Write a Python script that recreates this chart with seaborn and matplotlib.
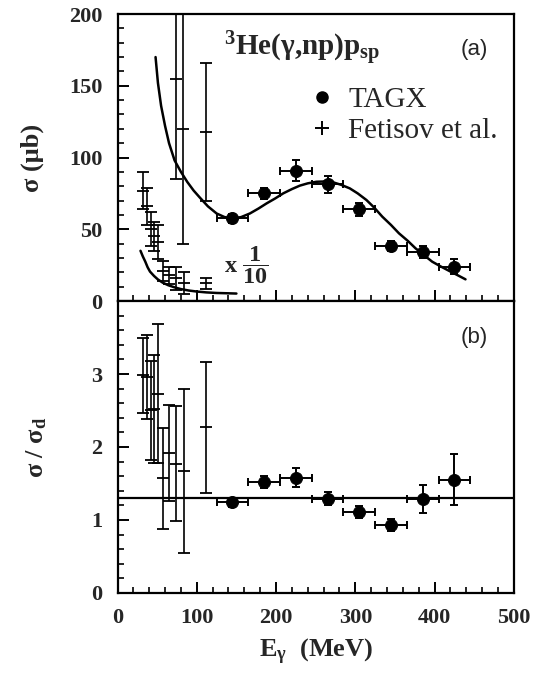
import matplotlib
matplotlib.use('Agg')
import matplotlib.pyplot as plt
import seaborn as sns
from matplotlib.lines import Line2D
from matplotlib.ticker import MultipleLocator, FixedLocator
from matplotlib.font_manager import FontProperties

# ---------------- data ----------------
# TAGX (this work)
tagx_E = [145, 185, 225, 265, 305, 345, 385, 425]
tagx_dE = [20, 20, 20, 20, 20, 20, 20, 20]
tagx_sig = [57.6, 75.0, 90.8, 81.3, 63.9, 38.5, 34.0, 24.0]
tagx_sig_err = [3.0, 4.0, 7.5, 6.0, 4.5, 3.5, 4.0, 5.5]
tagx_ratio = [1.24, 1.52, 1.58, 1.29, 1.11, 0.93, 1.29, 1.55]
tagx_ratio_err = [0.06, 0.08, 0.13, 0.09, 0.08, 0.08, 0.19, 0.35]

# Fetisov et al. (lower cluster shown x 1/10)
fet_E = [32, 37, 42, 46, 51, 57, 65, 74, 84, 112]
fet_sig_scaled = [77, 66, 50, 45, 41, 21, 18, 16, 12.3, 12.3]
fet_sig_scaled_err = [13, 13, 12, 10, 12, 7, 6, 8, 7.7, 4.0]
fet_ratio = [2.98, 2.96, 2.50, 2.52, 2.73, 1.57, 1.92, 1.77, 1.67, 2.27]
fet_ratio_err = [0.51, 0.58, 0.68, 0.74, 0.95, 0.69, 0.66, 0.79, 1.12, 0.90]
# Fetisov et al. unscaled high-energy points
fet_hi_E = [74, 83, 112]
fet_hi_sig = [155, 120, 118]
fet_hi_err = [70, 80, 48]

# calculation curve
curve_E = [48, 51, 55, 60, 65, 72, 80, 88, 96, 104, 114, 125, 135, 145, 156,
           167, 178, 188, 199, 209, 220, 230, 240, 251, 261, 272, 282, 293,
           303, 314, 324, 334, 345, 355, 366, 376, 387, 397, 408, 418, 429, 439]
curve_sig = [170, 152, 136, 122, 110, 98, 90, 83, 77, 72, 66, 61, 58.5, 57.5,
             58.5, 61, 64.5, 68, 71.5, 75, 78, 80.4, 82, 83.1, 83.3, 82.7, 81,
             78.5, 75, 70.4, 65, 58.8, 53, 47.2, 42, 36.7, 31.8, 27.4, 24,
             21.1, 18, 15.1]
# same curve scaled x 1/10
curve_low_E = [29, 32, 35, 38, 41, 46, 51, 57, 64, 72, 80, 90, 100, 112, 125, 138, 150]
curve_low_sig = [35, 31, 27.5, 23.5, 20.5, 17.5, 15, 12.8, 11, 9.5, 8.3, 7.3,
                 6.6, 6.0, 5.6, 5.4, 5.2]
# constant fit in panel (b)
ratio_fit = 1.3

x_ticks = [0, 100, 200, 300, 400, 500]
y_ticks_a = [0, 50, 100, 150, 200]
y_ticks_b = [0, 1, 2, 3]

# ---------------- style ----------------
sns.set_theme(style='ticks')
plt.rcParams['font.family'] = ['Liberation Serif', 'DejaVu Serif']
plt.rcParams['mathtext.default'] = 'regular'
plt.rcParams['axes.linewidth'] = 1.6
plt.rcParams['axes.edgecolor'] = 'black'

fig = plt.figure(figsize=(5.4, 6.74), dpi=100)
fig.patch.set_facecolor('white')
L, W = 0.2176, 0.734
ax1 = fig.add_axes([L, 0.5534, W, 0.4258])
ax2 = fig.add_axes([L, 0.1202, W, 0.4332])

tick_fp = FontProperties(family='Liberation Serif', weight='bold', size=16)

for ax in (ax1, ax2):
    ax.set_facecolor('white')
    ax.set_xlim(0, 500)
    ax.xaxis.set_major_locator(FixedLocator(x_ticks))
    ax.xaxis.set_minor_locator(MultipleLocator(20))
    ax.tick_params(axis='both', which='major', direction='in', length=8,
                   width=1.4, color='black', top=False, right=False, pad=11)
    ax.tick_params(axis='both', which='minor', direction='in', length=4,
                   width=1.2, color='black', top=False, right=False)

# ---- panel (a) ----
ax1.set_ylim(0, 200)
ax1.yaxis.set_major_locator(FixedLocator(y_ticks_a))
ax1.yaxis.set_minor_locator(MultipleLocator(10))
ax1.set_xticklabels([])

sns.lineplot(x=curve_E, y=curve_sig, ax=ax1, color='black', lw=1.8,
             sort=False, estimator=None)
sns.lineplot(x=curve_low_E, y=curve_low_sig, ax=ax1, color='black', lw=1.8,
             sort=False, estimator=None)

ax1.errorbar(tagx_E, tagx_sig, xerr=tagx_dE, yerr=tagx_sig_err, fmt='none',
             ecolor='black', elinewidth=1.4, capsize=3, capthick=1.4, zorder=3)
sns.scatterplot(x=tagx_E, y=tagx_sig, ax=ax1, color='black', s=75,
                marker='o', edgecolor='black', zorder=4)

ax1.errorbar(fet_E, fet_sig_scaled, yerr=fet_sig_scaled_err, fmt='_', ms=9,
             mew=1.3, color='black', elinewidth=1.2, capsize=4, capthick=1.2,
             zorder=3)
ax1.errorbar(fet_hi_E, fet_hi_sig, yerr=fet_hi_err, fmt='_', ms=9,
             mew=1.3, color='black', elinewidth=1.2, capsize=4, capthick=1.2,
             zorder=3)

ax1.text(233, 176, '$^{3}$He(γ,np)p$_{sp}$', fontsize=21, fontweight='bold',
         ha='center', va='center', family='Liberation Serif')
ax1.text(0.90, 0.875, '(a)', transform=ax1.transAxes, fontsize=16,
         family='Liberation Sans', ha='center', va='center')

handles = [Line2D([], [], marker='o', color='black', ls='None', ms=8),
           Line2D([], [], marker='+', color='black', ls='None', ms=10, mew=1.4)]
ax1.legend(handles, ['TAGX', 'Fetisov et al.'], loc='upper left',
           bbox_to_anchor=(0.486, 0.748), frameon=False, borderpad=0,
           borderaxespad=0, handlelength=0.8, handletextpad=0.5,
           labelspacing=0.17, prop=dict(family='Liberation Serif', size=21))

ax1.text(134, 25, 'x $\\dfrac{1}{10}$', fontsize=17.5, fontweight='bold',
         ha='left', va='center')

ax1.set_ylabel('σ (μb)', fontsize=19, fontweight='bold', labelpad=18)

# ---- panel (b) ----
ax2.set_ylim(0, 4)
ax2.yaxis.set_major_locator(FixedLocator(y_ticks_b))
ax2.yaxis.set_minor_locator(MultipleLocator(0.2))

ax2.axhline(ratio_fit, color='black', lw=1.6, zorder=2)
ax2.errorbar(tagx_E, tagx_ratio, xerr=tagx_dE, yerr=tagx_ratio_err, fmt='none',
             ecolor='black', elinewidth=1.4, capsize=3, capthick=1.4, zorder=3)
sns.scatterplot(x=tagx_E, y=tagx_ratio, ax=ax2, color='black', s=75,
                marker='o', edgecolor='black', zorder=4)
ax2.errorbar(fet_E, fet_ratio, yerr=fet_ratio_err, fmt='_', ms=9,
             mew=1.3, color='black', elinewidth=1.2, capsize=4, capthick=1.2,
             zorder=3)
ax2.text(0.90, 0.875, '(b)', transform=ax2.transAxes, fontsize=16,
         family='Liberation Sans', ha='center', va='center')

ax2.set_ylabel('σ / σ$_d$', fontsize=19, fontweight='bold', labelpad=30)
ax2.set_xlabel('E$_γ$  (MeV)', fontsize=19, fontweight='bold', labelpad=6)

for ax in (ax1, ax2):
    for lab in ax.get_yticklabels() + ax.get_xticklabels():
        lab.set_fontproperties(tick_fp)

fig.savefig('out.png', dpi=100, facecolor='white')
